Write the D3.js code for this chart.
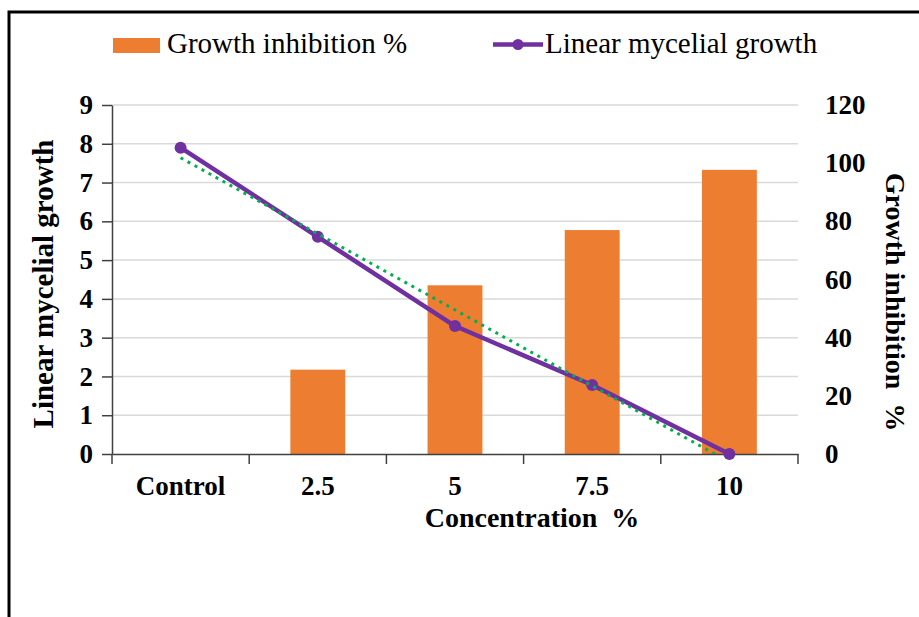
<!DOCTYPE html>
<html>
<head>
<meta charset="utf-8">
<script src="https://cdn.jsdelivr.net/npm/d3@7/dist/d3.min.js"></script>
<style>
  body { margin: 0; background: #fff; }
  svg { display: block; }
  text { font-family: "Liberation Serif", "Times New Roman", serif; fill: #000; }
  .axis text { font-family: "Liberation Serif", "Times New Roman", serif; font-size: 27px; font-weight: bold; }
  .axis path, .axis line { stroke: #404040; stroke-width: 1.5; }
  .grid line { stroke: #d9d9d9; stroke-width: 1.5; }
</style>
</head>
<body>
<svg id="chart" width="919" height="617"></svg>
<script>
'use strict';

var categories = ['Control', '2.5', '5', '7.5', '10'];
var mycelialGrowth = [7.9, 5.6, 3.3, 1.78, 0];
var growthInhibition = [0, 29, 58, 77, 97.7];
var leftTicks = [0, 1, 2, 3, 4, 5, 6, 7, 8, 9];
var rightTicks = [0, 20, 40, 60, 80, 100, 120];

var plot = { left: 112, right: 798, top: 105, bottom: 454 };
var orange = '#ed7d31';
var purple = '#7030a0';
var green = '#00b050';

var svg = d3.select('#chart');

svg.append('rect')
    .attr('width', 919)
    .attr('height', 617)
    .attr('fill', '#fff');

// frame (only top and left edges visible)
svg.append('rect')
    .attr('x', 9)
    .attr('y', 12)
    .attr('width', 2000)
    .attr('height', 2000)
    .attr('fill', 'none')
    .attr('stroke', '#000')
    .attr('stroke-width', 3);

var xScale = d3.scaleBand()
    .domain(categories)
    .range([plot.left, plot.right])
    .padding(0);

var yLeft = d3.scaleLinear()
    .domain([0, 9])
    .range([plot.bottom, plot.top]);

var yRight = d3.scaleLinear()
    .domain([0, 120])
    .range([plot.bottom, plot.top]);

// Gridlines
svg.append('g')
    .attr('class', 'grid')
    .selectAll('line')
    .data(leftTicks.slice(1))
  .enter().append('line')
    .attr('x1', plot.left)
    .attr('x2', plot.right)
    .attr('y1', function (d) { return yLeft(d); })
    .attr('y2', function (d) { return yLeft(d); });

// Bars
var barData = categories.map(function (c, i) {
  return { cat: c, value: growthInhibition[i] };
});

svg.append('g')
    .selectAll('rect')
    .data(barData)
  .enter().append('rect')
    .attr('x', function (d) { return xScale(d.cat) + xScale.bandwidth() * 0.3; })
    .attr('width', xScale.bandwidth() * 0.4)
    .attr('y', function (d) { return yRight(d.value); })
    .attr('height', function (d) { return plot.bottom - yRight(d.value); })
    .attr('fill', orange);

// Axes
svg.append('g')
    .attr('class', 'axis')
    .attr('font-family', null)
    .attr('transform', 'translate(' + plot.left + ',0)')
    .call(d3.axisLeft(yLeft).tickValues(leftTicks).tickSize(10).tickSizeOuter(0).tickPadding(9));

svg.append('g')
    .attr('class', 'axis')
    .attr('transform', 'translate(' + plot.right + ',0)')
    .call(d3.axisRight(yRight).tickValues(rightTicks).tickSize(0).tickPadding(27))
    .select('.domain').remove();

var xAxis = svg.append('g')
    .attr('class', 'axis')
    .attr('transform', 'translate(0,' + plot.bottom + ')')
    .call(d3.axisBottom(xScale).tickSize(0).tickSizeOuter(0).tickPadding(22));

// category boundary ticks
var bounds = d3.range(categories.length + 1).map(function (i) {
  return plot.left + i * xScale.step();
});
xAxis.selectAll('.sep')
    .data(bounds)
  .enter().append('line')
    .attr('class', 'sep')
    .attr('x1', function (d) { return d; })
    .attr('x2', function (d) { return d; })
    .attr('y1', 0)
    .attr('y2', 10);

// Linear mycelial growth line
var lineData = categories.map(function (c, i) {
  return { cat: c, value: mycelialGrowth[i] };
});

function cx(d) { return xScale(d.cat) + xScale.bandwidth() / 2; }

svg.append('path')
    .datum(lineData)
    .attr('fill', 'none')
    .attr('stroke', purple)
    .attr('stroke-width', 4.5)
    .attr('stroke-linejoin', 'round')
    .attr('d', d3.line()
      .x(cx)
      .y(function (d) { return yLeft(d.value); }));

svg.append('g')
    .selectAll('circle')
    .data(lineData)
  .enter().append('circle')
    .attr('cx', cx)
    .attr('cy', function (d) { return yLeft(d.value); })
    .attr('r', 6)
    .attr('fill', purple);

// Linear trendline (least squares on category index)
var n = mycelialGrowth.length;
var xs = d3.range(1, n + 1);
var mx = d3.mean(xs);
var my = d3.mean(mycelialGrowth);
var slope = d3.sum(xs, function (x, i) { return (x - mx) * (mycelialGrowth[i] - my); }) /
    d3.sum(xs, function (x) { return (x - mx) * (x - mx); });
var intercept = my - slope * mx;
var trend = [
  { cat: categories[0], value: intercept + slope * 1 },
  { cat: categories[n - 1], value: intercept + slope * n }
];

svg.append('clipPath')
    .attr('id', 'plot-clip')
  .append('rect')
    .attr('x', plot.left)
    .attr('y', plot.top)
    .attr('width', plot.right - plot.left)
    .attr('height', plot.bottom - plot.top);

svg.append('path')
    .datum(trend)
    .attr('clip-path', 'url(#plot-clip)')
    .attr('fill', 'none')
    .attr('stroke', green)
    .attr('stroke-width', 3)
    .attr('stroke-dasharray', '3,5')
    .attr('d', d3.line()
      .x(cx)
      .y(function (d) { return yLeft(d.value); }));

// Axis titles
svg.append('text')
    .attr('transform', 'translate(53,284) rotate(-90)')
    .attr('text-anchor', 'middle')
    .style('font-size', '29px')
    .style('font-weight', 'bold')
    .text('Linear mycelial growth');

svg.append('text')
    .attr('transform', 'translate(886,302) rotate(90)')
    .attr('text-anchor', 'middle')
    .style('font-size', '28px')
    .style('font-weight', 'bold')
    .style('white-space', 'pre')
    .text('Growth inhibition  %');

svg.append('text')
    .attr('x', 532)
    .attr('y', 527)
    .attr('text-anchor', 'middle')
    .style('font-size', '28px')
    .style('font-weight', 'bold')
    .style('white-space', 'pre')
    .text('Concentration  %');

// Legend
var legend = svg.append('g');

legend.append('rect')
    .attr('x', 113)
    .attr('y', 38)
    .attr('width', 47)
    .attr('height', 15)
    .attr('fill', orange);

legend.append('text')
    .attr('x', 167)
    .attr('y', 53)
    .style('font-size', '29px')
    .text('Growth inhibition %');

legend.append('line')
    .attr('x1', 493)
    .attr('x2', 543)
    .attr('y1', 44.5)
    .attr('y2', 44.5)
    .attr('stroke', purple)
    .attr('stroke-width', 4.5);

legend.append('circle')
    .attr('cx', 518)
    .attr('cy', 44.5)
    .attr('r', 5.5)
    .attr('fill', purple);

legend.append('text')
    .attr('x', 545)
    .attr('y', 53)
    .style('font-size', '29px')
    .text('Linear mycelial growth');
</script>
</body>
</html>
